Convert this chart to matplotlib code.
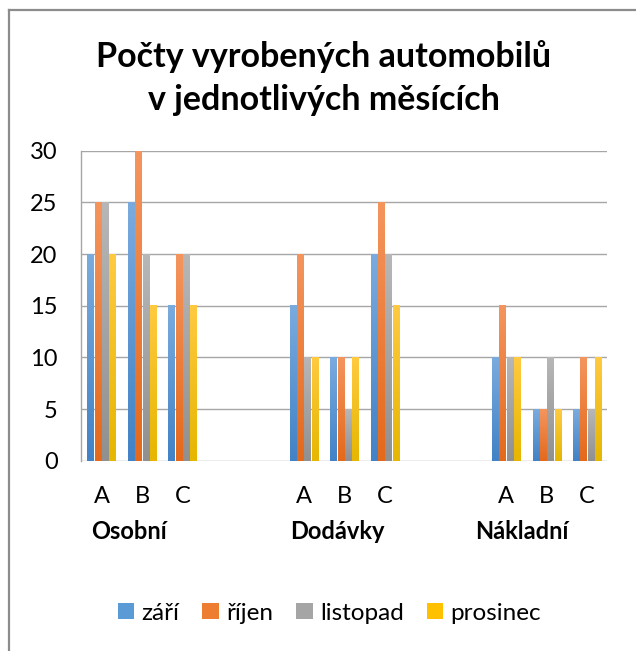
import numpy as np
import matplotlib
matplotlib.use("Agg")
import matplotlib.pyplot as plt
from matplotlib.colors import LinearSegmentedColormap
from matplotlib.patches import Patch

plt.rcParams['font.family'] = ['Lato', 'DejaVu Sans']

# data
groups = ["Osobní", "Dodávky", "Nákladní"]
types = ["A", "B", "C"]
series = ["září", "říjen", "listopad", "prosinec"]
zari = [20, 25, 15, 15, 10, 20, 10, 5, 5]
rijen = [25, 30, 20, 20, 10, 25, 15, 5, 10]
listopad = [25, 20, 20, 10, 5, 20, 10, 10, 5]
prosinec = [20, 15, 15, 10, 10, 15, 10, 5, 10]
values = [zari, rijen, listopad, prosinec]

# (top, bottom) gradient colours per series
grad = [("#7aabde", "#4282c6"),
        ("#f4955e", "#e4691b"),
        ("#b7b7b7", "#909090"),
        ("#ffca40", "#e6b600")]
mid = ["#5b9bd5", "#ed7d31", "#a5a5a5", "#ffc000"]

# 13 category slots: A B C _ _ A B C _ _ A B C
pos = [0, 1, 2, 5, 6, 7, 10, 11, 12]

fig = plt.figure(figsize=(6.36, 6.51), dpi=100)
ax = fig.add_axes([0.1278, 0.2923, 0.8271, 0.4762])

slot = 0.181
bw = 0.15
for i, vals in enumerate(values):
    cmap = LinearSegmentedColormap.from_list("g%d" % i, [grad[i][1], grad[i][0]])
    xs = np.array(pos) + (i - 1.5) * slot
    bars = ax.bar(xs, vals, width=bw, color=mid[i], zorder=2)
    for b in bars:
        x0, w, h = b.get_x(), b.get_width(), b.get_height()
        img = np.linspace(0, 1, 100).reshape(-1, 1)
        ax.imshow(img, extent=[x0, x0 + w, 0, h], origin="lower", aspect="auto",
                  cmap=cmap, zorder=3, interpolation="bilinear")

ax.set_xlim(-0.5, 12.5)
ax.set_ylim(0, 30)
ax.set_yticks(range(0, 31, 5))
ax.yaxis.grid(True, color="#a6a6a6", linewidth=1.0, zorder=0)
ax.set_axisbelow(True)
for s in ["top", "right", "bottom"]:
    ax.spines[s].set_visible(False)
ax.spines["left"].set_color("#a6a6a6")
ax.spines["left"].set_linewidth(1.0)
ax.tick_params(axis="y", length=0, pad=17, labelsize=17)
ax.set_xticks([])

# category and group labels under the axis
tr = ax.get_xaxis_transform()
for p, t in zip(pos, types * 3):
    ax.text(p, -0.117, t, transform=tr, ha="center", va="center", fontsize=17)
for x, g in zip([-0.25, 4.65, 9.23], groups):
    ax.text(x, -0.229, g, transform=tr, ha="left", va="center", fontsize=17,
            fontweight="bold")

fig.text(0.509, 1 - 57 / 651, "Počty vyrobených automobilů", ha="center",
         va="center", fontsize=24.5, fontweight="bold")
fig.text(0.509, 1 - 100 / 651, "v jednotlivých měsících", ha="center",
         va="center", fontsize=24.5, fontweight="bold")

handles = [Patch(facecolor=c) for c in mid]
fig.legend(handles, series, loc="center", bbox_to_anchor=(0.518, 1 - 613 / 651),
           ncol=4, frameon=False, fontsize=17.5, handlelength=0.68, handleheight=0.68,
           handletextpad=0.3, columnspacing=0.95)

# chart border (left and top visible)
fig.add_artist(plt.Line2D([9 / 636, 9 / 636], [0, 1 - 10 / 651], color="#8c8c8c",
                          linewidth=1.6, transform=fig.transFigure))
fig.add_artist(plt.Line2D([9 / 636, 1], [1 - 10 / 651, 1 - 10 / 651], color="#8c8c8c",
                          linewidth=1.6, transform=fig.transFigure))

fig.savefig("out.png", dpi=100)
